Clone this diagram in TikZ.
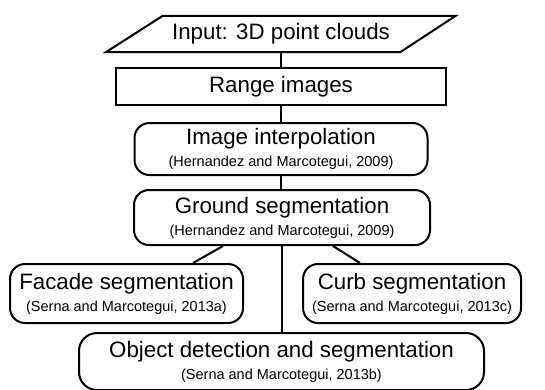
\documentclass[tikz,border=0pt]{standalone}
\usepackage{fontspec}
\setmainfont{Liberation Sans}
\newcommand\reftxt[1]{{\fontsize{14.5}{17}\selectfont #1}}
\begin{document}
\begin{tikzpicture}[x=1pt,y=-1pt,
  box/.style={draw, line width=2pt, rounded corners=15pt, inner sep=0pt, align=center,
    font=\fontsize{22.3}{22}\selectfont},
  link/.style={line width=2pt}]
\useasboundingbox (0,0) rectangle (545,389);
% input parallelogram
\node[inner sep=0pt, minimum width=293pt, minimum height=36pt, font=\fontsize{22.3}{22}\selectfont] (input) at (281,34) {Input: 3D point clouds};
\draw[line width=2pt] ([xshift=28.5pt]input.north west) -- ([xshift=28pt]input.north east)
  -- ([xshift=-27.5pt]input.south east) -- ([xshift=-28.5pt]input.south west) -- cycle;
\node[box, sharp corners, minimum width=330pt, minimum height=37pt] (range) at (281,86.5) {Range images};
\node[box, minimum width=293pt, minimum height=52pt] (interp) at (281,149) {Image interpolation\\\reftxt{(Hernandez and Marcotegui, 2009)}};
\node[box, minimum width=296pt, minimum height=55pt] (ground) at (282,217.5) {Ground segmentation\\\reftxt{(Hernandez and Marcotegui, 2009)}};
\node[box, minimum width=233pt, minimum height=59pt] (facade) at (126.5,293.5) {Facade segmentation\\\reftxt{(Serna and Marcotegui, 2013a)}};
\node[box, minimum width=218pt, minimum height=59pt] (curb) at (412,293.5) {Curb segmentation\\\reftxt{(Serna and Marcotegui, 2013c)}};
\node[box, rounded corners=18pt, minimum width=405pt, minimum height=57pt] (object) at (281.5,361.5) {Object detection and segmentation\\\reftxt{(Serna and Marcotegui, 2013b)}};
\draw[link] (input.south) -- (range.north);
\draw[link] (range.south) -- (interp.south |- range.south) -- (interp.north);
\draw[link] (interp.south) -- (interp.south |- ground.north);
\draw[link] (object.north |- ground.south) -- (object.north);
\draw[link] ([xshift=-59pt]ground.south) -- ([xshift=66.5pt]facade.north);
\draw[link] ([xshift=51pt]ground.south) -- ([xshift=-52pt]curb.north);
\end{tikzpicture}
\end{document}
